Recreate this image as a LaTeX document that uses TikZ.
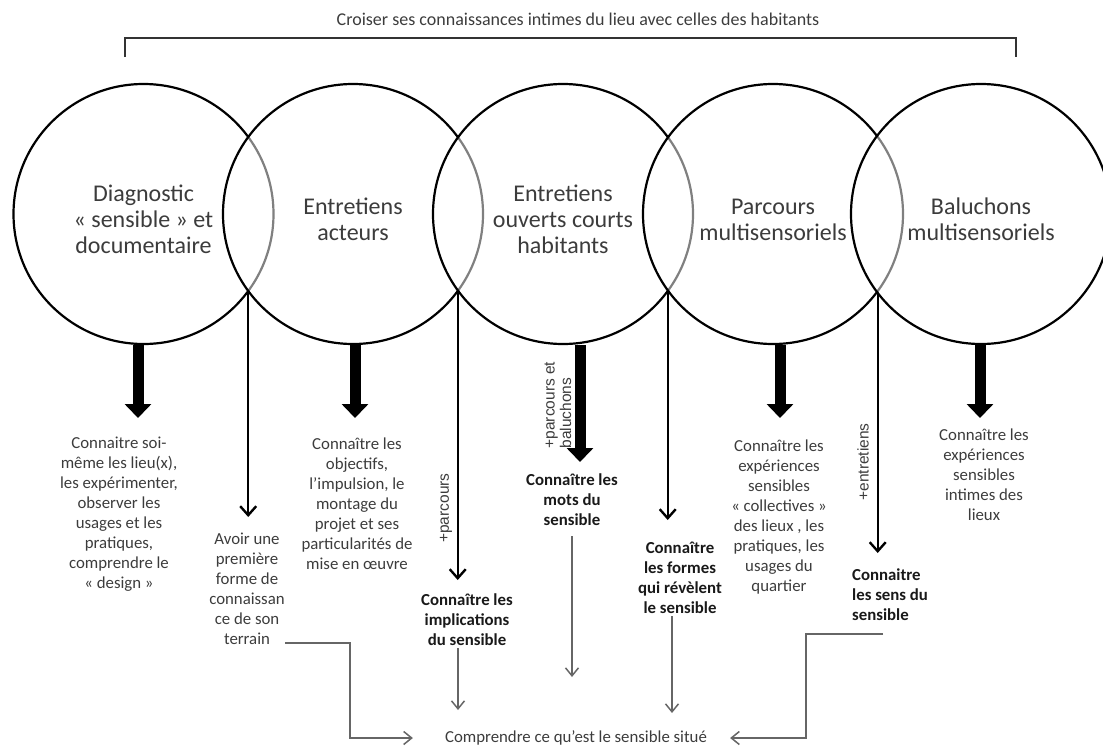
\documentclass[tikz,border=0pt]{standalone}
\usepackage{fontspec}
\setmainfont{Carlito}
\newfontfamily\helv{Liberation Sans}
\usetikzlibrary{arrows.meta}
\definecolor{texte}{RGB}{60,60,60}
\definecolor{gras}{RGB}{25,25,25}
\newcommand{\haut}{\rule{0pt}{27pt}}

\tikzset{
  bulle/.style={circle, draw, line width=2.2pt, minimum size=260pt, inner sep=0pt,
    fill=white, fill opacity=0.5, text opacity=1, align=center, text=texte,
    font=\fontsize{24}{26}\selectfont},
  petit/.style={align=center, text=texte, font=\fontsize{16.8}{20}\selectfont, inner sep=2pt},
  grasse/.style={petit, text=gras, font=\fontsize{16.8}{20}\selectfont\bfseries},
  ajout/.style={rotate=90, align=left, text=texte, font=\helv\fontsize{15.5}{16.5}\selectfont, inner sep=0pt},
  epaisse/.style={line width=11pt, -{Triangle[width=26pt,length=14pt]}},
  fine/.style={line width=2.4pt, -{Straight Barb[width=16pt,length=9pt]}},
  grise/.style={draw=black!60, line width=1.5pt, -{Straight Barb[width=13pt,length=8pt]}},
  accolade/.style={line width=2.6pt, draw=black!80}
}

\begin{document}
\begin{tikzpicture}[x=1pt,y=-1pt]
\useasboundingbox (0,0) rectangle (1103,747);

\node[petit, font=\fontsize{18}{20}\selectfont] (titre) at (578,19) {Croiser ses connaissances intimes du lieu avec celles des habitants};
\draw[accolade] (125,57) -- (125,38) -- (1016,38) -- (1016,57);

% les cinq cercles
\node[bulle] (diag) at (143.5,214) {\haut Diagnostic\\« sensible » et\\documentaire};
\node[bulle] (acteurs) at (353,214) {\haut Entretiens\\acteurs};
\node[bulle] (habit) at (563,214) {\haut Entretiens\\ouverts courts\\habitants};
\node[bulle] (parcours) at (773,214) {\haut Parcours\\multisensoriels};
\node[bulle] (baluch) at (981,214) {\haut Baluchons\\multisensoriels};

% ce que l'on connait
\node[petit] (soi) at (119,514) {Connaitre soi-\\même les lieu(x),\\les expérimenter,\\observer les\\usages et les\\pratiques,\\comprendre le\\« design »};
\node[petit] (avoir) at (247,589) {Avoir une\\première\\forme de\\connaissan\\ce de son\\terrain};
\node[petit] (objectifs) at (357,504) {Connaître les\\objectifs,\\l’impulsion, le\\montage du\\projet et ses\\particularités de\\mise en œuvre};
\node[grasse] (implic) at (467,620) {Connaître les\\implications\\du sensible};
\node[grasse] (mots) at (572,500) {Connaître les\\mots du\\sensible};
\node[grasse] (formes) at (680,578) {Connaître\\les formes\\qui révèlent\\le sensible};
\node[petit] (collect) at (779,517) {Connaître les\\expériences\\sensibles\\« collectives »\\des lieux , les\\pratiques, les\\usages du\\quartier};
\node[grasse, align=left, anchor=west] (sens) at (850,595) {Connaitre\\les sens du\\sensible};
\node[petit] (intimes) at (984,475) {Connaître les\\expériences\\sensibles\\intimes des\\lieux};
\node[petit] (comprendre) at (576,738) {Comprendre ce qu’est le sensible situé};

\node[ajout] (plusparc) at (446,508) {+parcours};
\node[ajout] (plusbal) at (558,405) {+parcours et\\baluchons};
\node[ajout] (plusent) at (863,462) {+entretiens};

% fleches epaisses
\coordinate (pdiag) at (138,418);
\coordinate (pacteurs) at (355,418);
\coordinate (phabit) at (580,462);
\coordinate (pparcours) at (780,418);
\coordinate (pbaluch) at (980,418);
\draw[epaisse] (diag.south -| pdiag) -- (pdiag);
\draw[epaisse] (acteurs.south -| pacteurs) -- (pacteurs);
\draw[epaisse] (habit.south -| phabit) -- (phabit);
\draw[epaisse] (parcours.south -| pparcours) -- (pparcours);
\draw[epaisse] (baluch.south -| pbaluch) -- (pbaluch);

% fleches fines
\coordinate (pavoir) at (248,517);
\coordinate (pimplic) at (458,580);
\coordinate (pformes) at (668,520);
\coordinate (psens) at (877,553);
\draw[fine] (diag.-37) -- (diag.-37 |- pavoir);
\draw[fine] (acteurs.-37) -- (acteurs.-37 |- pimplic);
\draw[fine] (habit.-37) -- (habit.-37 |- pformes);
\draw[fine] (parcours.-37) -- (parcours.-37 |- psens);

% vers comprendre
\coordinate (gimplic) at (458,710);
\coordinate (gmots) at (572,677);
\coordinate (gformes) at (672,713);
\draw[grise] (implic.south -| gimplic) -- (gimplic);
\draw[grise] ([yshift=-8pt]mots.south -| gmots) -- (gmots);
\draw[grise] (formes.south -| gformes) -- (gformes);
\coordinate (cgauche) at (285,643);
\coordinate (cdroite) at (883,634);
\draw[grise, shorten >=30pt] (cgauche) -- ++(65,0) |- (comprendre.west);
\draw[grise, shorten >=21pt] (cdroite) -- ++(-77,0) |- (comprendre.east);
\end{tikzpicture}
\end{document}
